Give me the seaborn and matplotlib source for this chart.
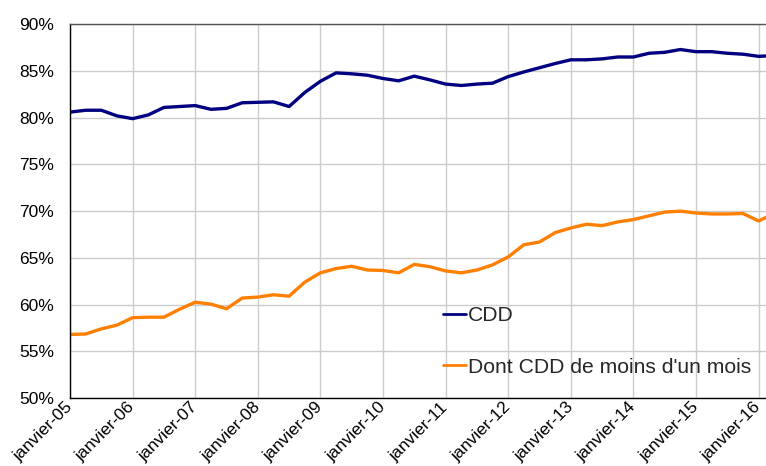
import matplotlib
matplotlib.use("Agg")
import matplotlib.pyplot as plt
import seaborn as sns
import pandas as pd

# ---- data (quarterly) ----
quarters = [
    "2005-01", "2005-04", "2005-07", "2005-10",
    "2006-01", "2006-04", "2006-07", "2006-10",
    "2007-01", "2007-04", "2007-07", "2007-10",
    "2008-01", "2008-04", "2008-07", "2008-10",
    "2009-01", "2009-04", "2009-07", "2009-10",
    "2010-01", "2010-04", "2010-07", "2010-10",
    "2011-01", "2011-04", "2011-07", "2011-10",
    "2012-01", "2012-04", "2012-07", "2012-10",
    "2013-01", "2013-04", "2013-07", "2013-10",
    "2014-01", "2014-04", "2014-07", "2014-10",
    "2015-01", "2015-04", "2015-07", "2015-10",
    "2016-01", "2016-04",
]
cdd = [
    80.6, 80.8, 80.8, 80.2,
    79.9, 80.3, 81.1, 81.2,
    81.3, 80.9, 81.0, 81.6,
    81.65, 81.7, 81.2, 82.7,
    83.9, 84.8, 84.7, 84.55,
    84.2, 83.95, 84.45, 84.05,
    83.6, 83.45, 83.6, 83.7,
    84.4, 84.9, 85.35, 85.8,
    86.2, 86.2, 86.3, 86.5,
    86.5, 86.9, 87.0, 87.3,
    87.07, 87.07, 86.9, 86.8,
    86.57, 86.65,
]
cdd_moins_mois = [
    56.8, 56.85, 57.4, 57.8,
    58.6, 58.65, 58.65, 59.5,
    60.25, 60.05, 59.55, 60.7,
    60.8, 61.05, 60.9, 62.4,
    63.4, 63.85, 64.1, 63.7,
    63.65, 63.4, 64.3, 64.05,
    63.6, 63.4, 63.7, 64.25,
    65.1, 66.4, 66.7, 67.7,
    68.2, 68.6, 68.45, 68.85,
    69.1, 69.5, 69.9, 70.0,
    69.8, 69.7, 69.7, 69.75,
    68.95, 69.75,
]
series_names = ["CDD", "Dont CDD de moins d'un mois"]
year_ticks = list(range(2005, 2017))
tick_labels = [f"janvier-{y % 100:02d}" for y in year_ticks]
y_ticks = [50, 55, 60, 65, 70, 75, 80, 85, 90]

# ---- build long table ----
def to_decimal(s):
    y, m = s.split("-")
    return int(y) + (int(m) - 1) / 12.0

x_dec = [to_decimal(q) for q in quarters]
df = pd.DataFrame({
    "x": x_dec * 2,
    "value": cdd + cdd_moins_mois,
    "serie": [series_names[0]] * len(cdd) + [series_names[1]] * len(cdd_moins_mois),
})

sns.set_theme(style="white")
plt.rcParams["font.family"] = ["Liberation Sans", "DejaVu Sans"]

fig = plt.figure(figsize=(7.66, 4.66), dpi=100)
ax = fig.add_axes([70 / 766, 68 / 466, 696 / 766, 373.7 / 466])

palette = {series_names[0]: "#000080", series_names[1]: "#FF7F00"}
sns.lineplot(data=df, x="x", y="value", hue="serie", palette=palette,
             linewidth=2.4, ax=ax, legend=False, sort=False)

ax.set_xlim(2005, 2016.118)
ax.set_ylim(50, 90)
ax.set_xticks(year_ticks)
ax.set_xticklabels(tick_labels, rotation=45, ha="right", va="center",
                   rotation_mode="anchor", fontsize=12.5)
ax.set_yticks(y_ticks)
ax.set_yticklabels([f"{v}%" for v in y_ticks], fontsize=12.5)
ax.set_xlabel("")
ax.set_ylabel("")

ax.grid(True, color="#cccccc", linewidth=1.0)
ax.tick_params(axis="both", length=0, colors="black")
ax.tick_params(axis="y", pad=11.5)
ax.tick_params(axis="x", pad=5)

for side in ["left", "bottom"]:
    ax.spines[side].set_color("black")
    ax.spines[side].set_linewidth(1.0)
ax.spines["top"].set_color("#555555")
ax.spines["top"].set_linewidth(1.0)
ax.spines["right"].set_visible(False)

handles = [plt.Line2D([], [], color=palette[n], linewidth=2) for n in series_names]
leg = ax.legend(handles, series_names, loc="upper left",
                bbox_to_anchor=((443 - 70) / 696, (398 - 306) / 373.7),
                frameon=False, fontsize=15.2, handlelength=1.1,
                handletextpad=0.1, labelspacing=1.55, borderpad=0,
                borderaxespad=0)

fig.savefig("out.png", dpi=100, facecolor="white")
